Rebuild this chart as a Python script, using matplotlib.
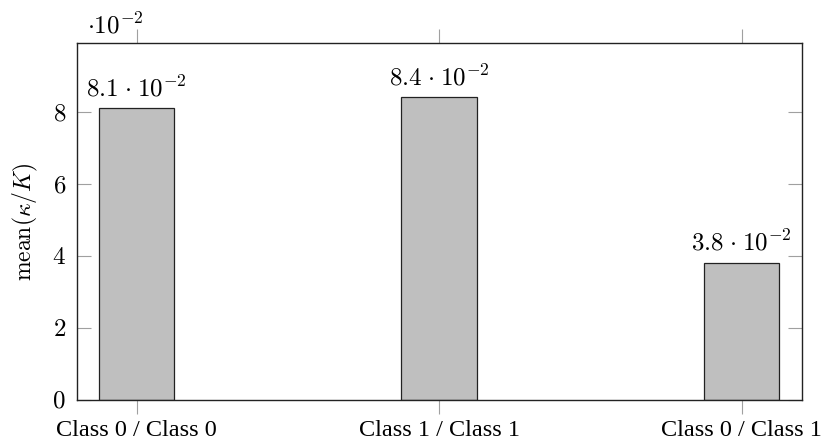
import matplotlib
matplotlib.use("Agg")
import matplotlib.pyplot as plt
import numpy as np

categories = ["Class 0 / Class 0", "Class 1 / Class 1", "Class 0 / Class 1"]
mean_ratio = [0.081, 0.084, 0.038]
y_ticks = [0, 2, 4, 6, 8]
scale_exp = -2

plt.rcParams["mathtext.fontset"] = "cm"
plt.rcParams["font.family"] = ["Liberation Serif", "DejaVu Serif"]

fig = plt.figure(figsize=(8.22, 4.42), dpi=100)
ax = fig.add_axes([77 / 822, 1 - 399.5 / 442, (801.5 - 77) / 822, (399.5 - 43) / 442])

x = np.arange(len(categories))
scaled = [v / 10 ** scale_exp for v in mean_ratio]
ax.bar(x, scaled, width=0.25, color="#bfbfbf", edgecolor="#222222", linewidth=0.9, zorder=2)

for xi, v in zip(x, mean_ratio):
    mant = v / 10 ** scale_exp
    ax.annotate(rf"${mant:.1f}\hspace{{0.08}}\cdot\hspace{{0.08}}10^{{{scale_exp}}}$", (xi, mant),
                xytext=(0, 8.6), textcoords="offset points",
                ha="center", va="baseline", fontsize=18)

ax.set_xlim(-0.197, 2.198)
ax.set_ylim(0, 9.91)
ax.set_xticks(x)
ax.set_xticklabels(categories, fontsize=17.5)
ax.set_yticks(y_ticks)
ax.set_yticklabels([rf"${t}$" for t in y_ticks], fontsize=18)

ax.tick_params(axis="x", direction="out", length=10, width=0.8, color="#a0a0a0",
               top=True, bottom=True, pad=5)
ax.tick_params(axis="y", direction="in", length=10, width=0.8, color="#a0a0a0",
               left=True, right=True, pad=8)

for s in ax.spines.values():
    s.set_linewidth(1.0)
    s.set_color("#222222")

ax.set_ylabel(r"$\mathrm{mean}(\kappa/K)$", fontsize=17, labelpad=9)
ax.text(0.014, 1 + 10 / 356.5, rf"$\cdot10^{{{scale_exp}}}$", transform=ax.transAxes,
        ha="left", va="baseline", fontsize=18)

fig.savefig("out.png", dpi=100)
